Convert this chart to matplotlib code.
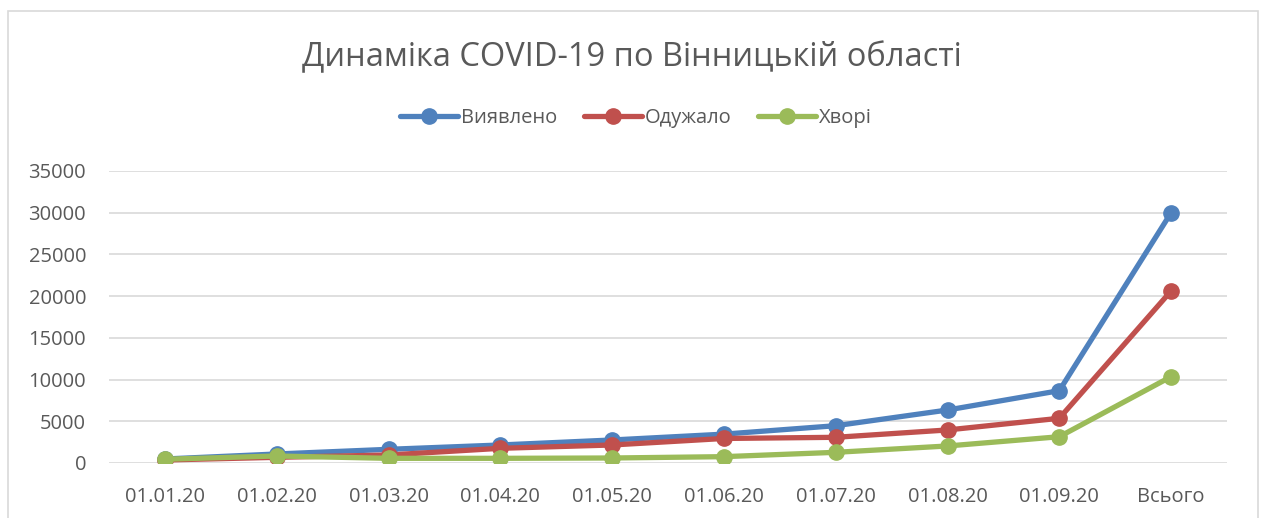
import matplotlib
matplotlib.use("Agg")
import matplotlib.pyplot as plt
from matplotlib.patches import Rectangle
import numpy as np

# data
categories = ["01.01.20", "01.02.20", "01.03.20", "01.04.20", "01.05.20",
              "01.06.20", "01.07.20", "01.08.20", "01.09.20", "Всього"]
detected = [480, 1080, 1640, 2160, 2760, 3460, 4470, 6350, 8670, 30000]
recovered = [360, 680, 960, 1760, 2160, 2940, 3080, 3960, 5360, 20620]
sick = [450, 840, 560, 560, 600, 760, 1280, 2040, 3150, 10350]
y_ticks = np.arange(0, 35001, 5000)

plt.rcParams['font.family'] = ['Open Sans', 'DejaVu Sans']
text_col = '#595959'

fig = plt.figure(figsize=(12.62, 5.18), dpi=100)
ax = fig.add_axes([109 / 1262, 1 - 463 / 518, 1118 / 1262, 292 / 518])

x = np.arange(len(categories))
ax.plot(x, detected, color='#4F81BD', lw=3.8, marker='o', ms=11, label='Виявлено',
        solid_capstyle='round', zorder=3)
ax.plot(x, recovered, color='#C0504D', lw=3.8, marker='o', ms=11, label='Одужало',
        solid_capstyle='round', zorder=4)
ax.plot(x, sick, color='#9BBB59', lw=3.8, marker='o', ms=11, label='Хворі',
        solid_capstyle='round', zorder=5)

ax.set_xlim(-0.5, len(categories) - 0.5)
ax.set_ylim(0, 35000)
ax.set_yticks(y_ticks)
ax.set_yticklabels([str(v) for v in y_ticks])
ax.set_xticks(x)
ax.set_xticklabels(categories)
ax.tick_params(axis='both', length=0, labelsize=14.5, labelcolor=text_col)
ax.tick_params(axis='y', pad=16.5)
ax.tick_params(axis='x', pad=17)
ax.grid(axis='y', color='#D9D9D9', lw=1.2)
ax.set_axisbelow(True)
for s in ax.spines.values():
    s.set_visible(False)

fig.text(632 / 1262, 1 - 58 / 518, 'Динаміка COVID-19 по Вінницькій області',
         ha='center', va='center', fontsize=23.5, color=text_col)

fig.legend(loc='center', bbox_to_anchor=(636 / 1262, 1 - 118 / 518), ncol=3,
           frameon=False, fontsize=14.5, labelcolor=text_col, handlelength=2.9,
           handletextpad=0.15, columnspacing=1.3)

fig.patches.append(Rectangle((8 / 1262, -0.05), 1250 / 1262, 1.05 - 11 / 518,
                             transform=fig.transFigure, fill=False,
                             edgecolor='#D9D9D9', lw=1.2))

fig.savefig('out.png', dpi=100)
